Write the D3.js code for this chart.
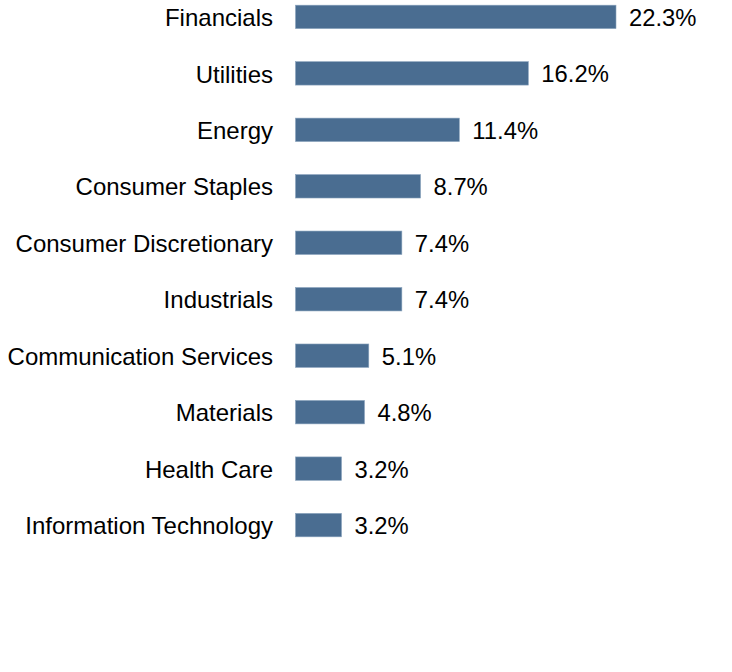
<!DOCTYPE html>
<html><head><meta charset="utf-8">
<script src="https://cdn.jsdelivr.net/npm/d3@7"></script>
<style>html,body{margin:0;padding:0;background:#fff;}</style>
</head><body>
<svg id="c" width="732" height="672"></svg>
<script>
const categories = ["Financials","Utilities","Energy","Consumer Staples","Consumer Discretionary","Industrials","Communication Services","Materials","Health Care","Information Technology"];
const values = [22.3,16.2,11.4,8.7,7.4,7.4,5.1,4.8,3.2,3.2];
const valueLabels = ["22.3%","16.2%","11.4%","8.7%","7.4%","7.4%","5.1%","4.8%","3.2%","3.2%"];

const data = categories.map((c,i)=>({c, v:values[i], l:valueLabels[i]}));
const svg = d3.select("#c");
const x = d3.scaleLinear().domain([0,22.3]).range([295.5,616]);
const y = d3.scaleBand().domain(categories).range([-11.2,553.2]).paddingInner(0.585).paddingOuter(0.29);

svg.selectAll("rect").data(data).join("rect")
  .attr("x", x(0)).attr("y", d=>y(d.c))
  .attr("width", d=>x(d.v)-x(0)).attr("height", y.bandwidth())
  .attr("fill","#4a6d91").attr("stroke","#8aa3bd").attr("stroke-width",0.6);

const font = "'Liberation Sans', Arial, sans-serif";
svg.selectAll("text.cat").data(data).join("text").attr("class","cat")
  .attr("x",273).attr("y",d=>y(d.c)+y.bandwidth()/2+0.5).attr("dy","0.36em")
  .attr("text-anchor","end").attr("font-family",font).attr("font-size",24).attr("fill","#000")
  .text(d=>d.c);
svg.selectAll("text.val").data(data).join("text").attr("class","val")
  .attr("x",d=>x(d.v)+13).attr("y",d=>y(d.c)+y.bandwidth()/2+0.5).attr("dy","0.36em")
  .attr("text-anchor","start").attr("font-family",font).attr("font-size",23.8).attr("fill","#000")
  .text(d=>d.l);
</script>
</body></html>
